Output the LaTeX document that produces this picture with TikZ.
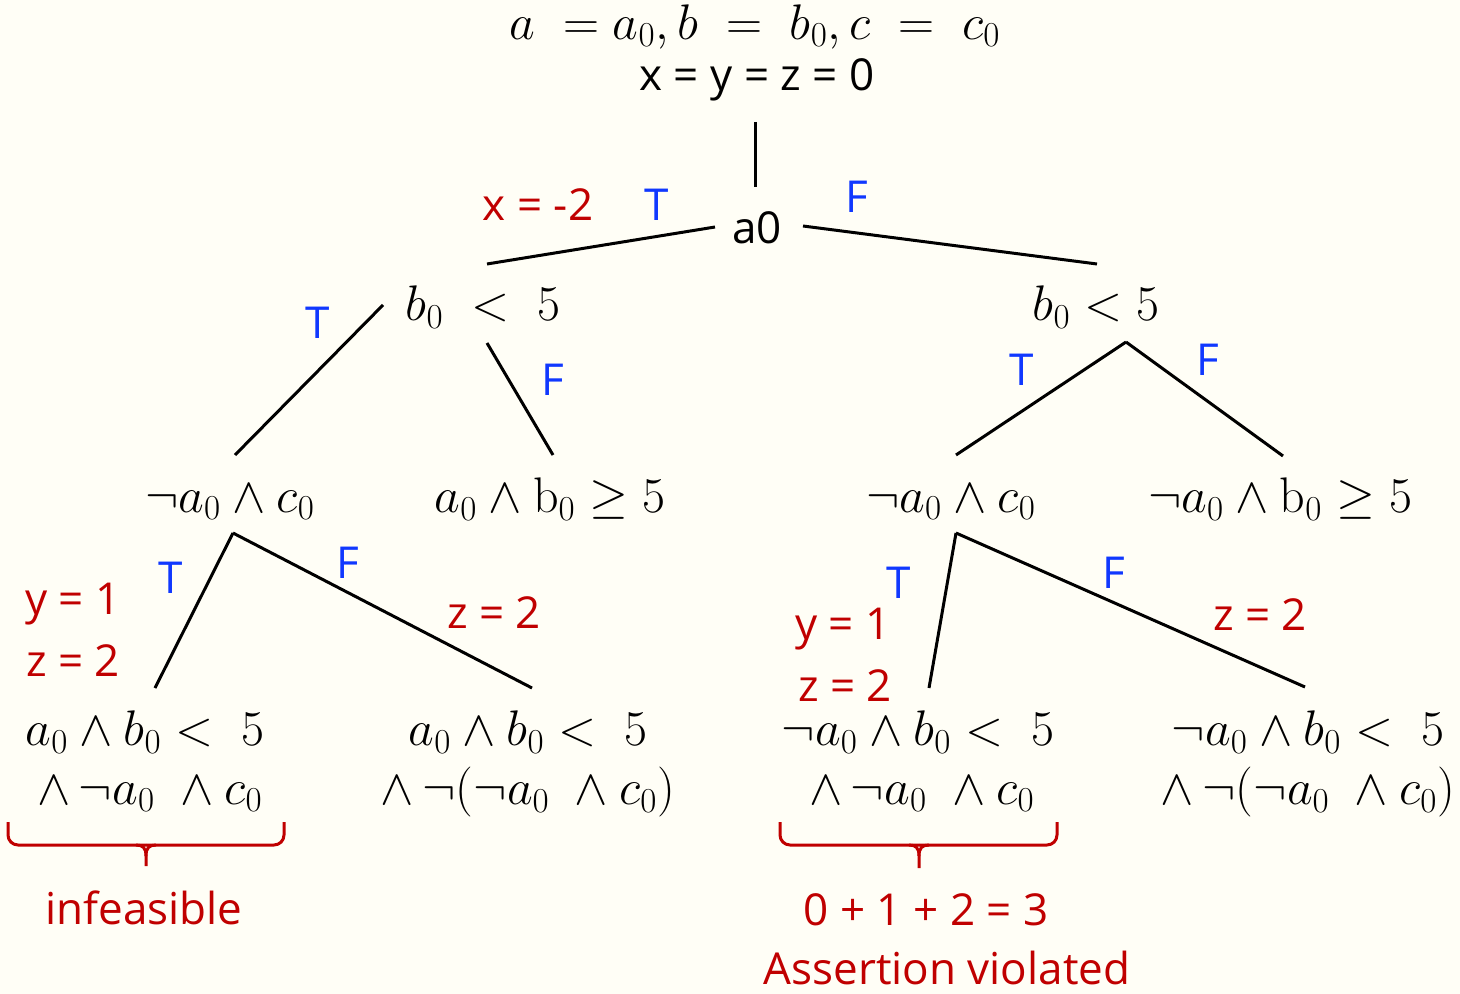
\RequirePackage{fix-cm}
\documentclass[tikz,border=0pt]{standalone}
\usepackage{fontspec}
\setsansfont{Open Sans}
\definecolor{bg}{RGB}{255,254,246}
\definecolor{myred}{RGB}{192,0,0}
\definecolor{myblue}{RGB}{16,56,255}
\tikzset{
  mth/.style={inner sep=0pt, font=\fontsize{25}{29}\selectfont, align=center},
  txt/.style={inner sep=0pt, font=\sffamily\fontsize{22}{26}\selectfont},
  rtxt/.style={txt, text=myred},
  btxt/.style={txt, text=myblue},
  edge/.style={line width=1.5pt, black},
  brc/.style={line width=1.5pt, myred, rounded corners=5pt},
  tip/.style={line width=1.5pt, myred},
}
\begin{document}
\begin{tikzpicture}[x=0.5pt,y=-0.5pt]
\fill[bg] (0,0) rectangle (1460,994);
\useasboundingbox (0,0) rectangle (1460,994);
% top
\node[mth] (init) at (755,27) {$a\; = a_0, b\; =\; b_0, c\; =\; c_0$};
\node[txt] (xyz) at (757,80) {x = y = z = 0};
\node[txt] (a0) at (757,228) {a0};
\node[mth] (bL) at (483,307) {$b_0\; <\; 5$};
\node[mth] (bR) at (1096,307) {$b_0 < 5$};
\node[mth] (nL) at (230,502) {$\neg a_0 \wedge c_0$};
\node[mth] (pL) at (550,499) {$a_0 \wedge \mathrm{b}_0 \geq 5$};
\node[mth] (nR) at (951,502) {$\neg a_0 \wedge c_0$};
\node[mth] (pR) at (1280,499) {$\neg a_0 \wedge \mathrm{b}_0 \geq 5$};
\node[mth] (l1a) at (145,732) {$a_0 \wedge b_0 <\; 5$};
\node[mth] (l1b) at (150,794) {$\wedge\, \neg a_0\; \wedge c_0$};
\node[mth] (l2a) at (528,732) {$a_0 \wedge b_0 <\; 5$};
\node[mth] (l2b) at (528,792) {$\wedge\, \neg(\neg a_0\; \wedge c_0)$};
\node[mth] (l3a) at (918,732) {$\neg a_0 \wedge b_0 <\; 5$};
\node[mth] (l3b) at (922,794) {$\wedge\, \neg a_0\; \wedge c_0$};
\node[mth] (l4a) at (1308,732) {$\neg a_0 \wedge b_0 <\; 5$};
\node[mth] (l4b) at (1308,792) {$\wedge\, \neg(\neg a_0\; \wedge c_0)$};
% connector end points
\coordinate (t1) at (755,122); \coordinate (t2) at (755,187);
\coordinate (a0w) at (715,227); \coordinate (bLn) at (487,264);
\coordinate (a0e) at (803,226); \coordinate (bRn) at (1097,264);
\coordinate (bLw) at (383,305); \coordinate (nLn) at (235,455);
\coordinate (bLs) at (487,343); \coordinate (pLn) at (553,455);
\coordinate (bRs) at (1126,342); \coordinate (nRn) at (956,455); \coordinate (pRn) at (1283,456);
\coordinate (nLs) at (233,533); \coordinate (l1n) at (155,688); \coordinate (l2n) at (532,688);
\coordinate (nRs) at (956,533); \coordinate (l3n) at (929,688); \coordinate (l4n) at (1305,687);
\draw[edge] (t1) -- (t2);
\draw[edge] (a0w) -- (bLn);
\draw[edge] (a0e) -- (bRn);
\draw[edge] (bLw) -- (nLn);
\draw[edge] (bLs) -- (pLn);
\draw[edge] (bRs) -- (nRn);
\draw[edge] (bRs) -- (pRn);
\draw[edge] (nLs) -- (l1n);
\draw[edge] (nLs) -- (l2n);
\draw[edge] (nRs) -- (l3n);
\draw[edge] (nRs) -- (l4n);
% labels
\node[rtxt] at (538,205) {x = -2};
\node[btxt] at (657,205) {T};
\node[btxt] at (857,197) {F};
\node[btxt] at (318,323) {T};
\node[btxt] at (553,380) {F};
\node[btxt] at (1022,370) {T};
\node[btxt] at (1208,360) {F};
\node[btxt] at (171,578) {T};
\node[btxt] at (348,563) {F};
\node[rtxt] at (73,604) {y = 1};
\node[rtxt] at (73,661) {z = 2};
\node[rtxt] at (494,613) {z = 2};
\node[btxt] at (899,583) {T};
\node[btxt] at (1114,573) {F};
\node[rtxt] at (843,629) {y = 1};
\node[rtxt] at (845,686) {z = 2};
\node[rtxt] at (1260,615) {z = 2};
% braces
\draw[brc] (8,822) -- (8,845) -- (146,845);
\draw[brc] (284,822) -- (284,845) -- (146,845);
\draw[tip] (136,845) .. controls (143,845) and (146,848) .. (146,856) -- (146,866);
\draw[tip] (156,845) .. controls (149,845) and (146,848) .. (146,856);
\draw[brc] (780,822) -- (780,845) -- (919,845);
\draw[brc] (1057,822) -- (1057,845) -- (919,845);
\draw[tip] (909,845) .. controls (916,845) and (919,848) .. (919,856) -- (919,868);
\draw[tip] (929,845) .. controls (922,845) and (919,848) .. (919,856);
\node[rtxt] (inf) at (144,908) {infeasible};
\node[rtxt] (sum) at (926,910) {0 + 1 + 2 = 3};
\node[rtxt] (av) at (947,968) {Assertion violated};
\end{tikzpicture}
\end{document}
